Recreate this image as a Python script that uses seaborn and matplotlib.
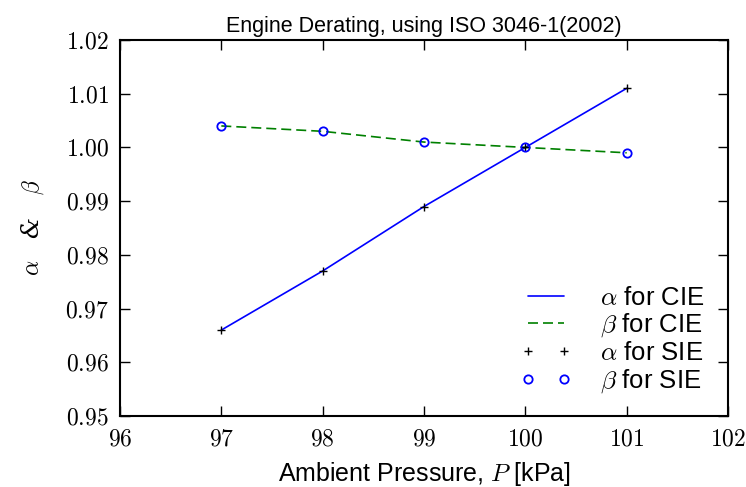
import matplotlib
matplotlib.use("Agg")
import matplotlib.pyplot as plt
import seaborn as sns
import pandas as pd
from matplotlib.ticker import FuncFormatter

pressure = [97, 98, 99, 100, 101]
alpha_cie = [0.966, 0.977, 0.989, 1.000, 1.011]
beta_cie = [1.004, 1.003, 1.001, 1.000, 0.999]
alpha_sie = [0.966, 0.977, 0.989, 1.000, 1.011]
beta_sie = [1.004, 1.003, 1.001, 1.000, 0.999]
x_ticks = [96, 97, 98, 99, 100, 101, 102]
y_ticks = [0.95, 0.96, 0.97, 0.98, 0.99, 1.00, 1.01, 1.02]

sns.set_style("ticks")
plt.rcParams['font.family'] = ['Liberation Sans', 'DejaVu Sans']
plt.rcParams['mathtext.fontset'] = 'cm'
plt.rcParams['xtick.direction'] = 'in'
plt.rcParams['ytick.direction'] = 'in'
plt.rcParams['text.color'] = 'black'
plt.rcParams['axes.labelcolor'] = 'black'
plt.rcParams['xtick.color'] = 'black'
plt.rcParams['ytick.color'] = 'black'

df = pd.DataFrame({"P": pressure, "a_cie": alpha_cie, "b_cie": beta_cie,
                   "a_sie": alpha_sie, "b_sie": beta_sie})

fig = plt.figure(figsize=(7.46, 4.87), dpi=100)
ax = fig.add_axes([120/746, 1-416/487, (728-120)/746, (416-40)/487])

sns.lineplot(data=df, x="P", y="a_cie", ax=ax, color="blue", lw=1.2,
             label=r"$\alpha$ for CIE")
sns.lineplot(data=df, x="P", y="b_cie", ax=ax, color="green", lw=1.2,
             linestyle=(0, (6, 3)), label=r"$\beta$ for CIE")
sns.lineplot(data=df, x="P", y="a_sie", ax=ax, color="black", linestyle="none",
             marker="+", markersize=6, markeredgecolor="black",
             markeredgewidth=1.0, label=r"$\alpha$ for SIE")
sns.lineplot(data=df, x="P", y="b_sie", ax=ax, color="blue", linestyle="none",
             marker="o", markersize=6, markerfacecolor="none", markeredgecolor="blue",
             markeredgewidth=1.3, label=r"$\beta$ for SIE")

ax.set_xlim(96, 102)
ax.set_ylim(0.95, 1.02)
ax.set_xticks(x_ticks)
ax.set_yticks(y_ticks)
ax.xaxis.set_major_formatter(FuncFormatter(lambda v, p: r"$%d$" % round(v)))
ax.yaxis.set_major_formatter(FuncFormatter(lambda v, p: r"$%.2f$" % v))
ax.tick_params(axis="both", which="major", labelsize=17, length=7, width=1,
               top=True, right=True, color="black", labelcolor="black")
ax.tick_params(axis="x", pad=9)
ax.tick_params(axis="y", pad=8)
for s in ax.spines.values():
    s.set_linewidth(1.5)
    s.set_color("black")

ax.set_title("Engine Derating, using ISO 3046-1(2002)", fontsize=15.5, pad=6,
             color="black")
ax.set_xlabel(r"Ambient Pressure, $P$ [kPa]", fontsize=18, labelpad=7)
ax.set_ylabel(r"$\alpha$   &   $\beta$", fontsize=17, labelpad=14,
              family=["DejaVu Serif"], style="italic")

leg = ax.legend(loc="lower right", frameon=False, fontsize=18.5, numpoints=2,
                handlelength=2.0, handletextpad=1.1, borderaxespad=0.0,
                labelspacing=0.08, bbox_to_anchor=(0.978, 0.028))
for t in leg.get_texts():
    t.set_color("black")

fig.savefig("out.png", dpi=100)
